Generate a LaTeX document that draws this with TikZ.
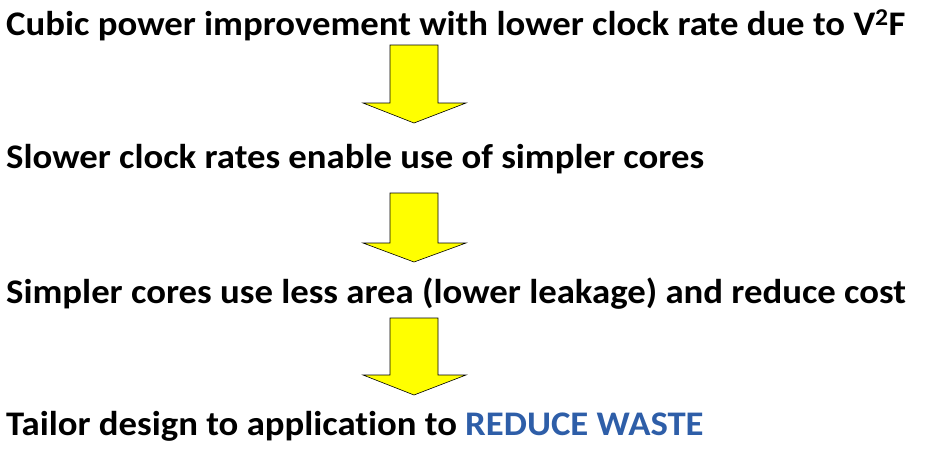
\documentclass[tikz,border=0pt]{standalone}
\usepackage{fontspec}
\setmainfont[Ligatures=NoCommon,FakeStretch=1.065]{Carlito}
\usepackage{tikz}
\definecolor{wasteblue}{RGB}{46,94,168}
\definecolor{arrowyellow}{RGB}{255,255,0}
\tikzset{
  line/.style={anchor=base west,inner sep=0pt,font=\fontsize{34.5}{38}\selectfont\bfseries},
  blockarrow/.style={fill=arrowyellow,draw=black,line width=0.6pt,line join=miter}
}
\begin{document}
\begin{tikzpicture}[x=1pt,y=-1pt]
  \useasboundingbox (0,0) rectangle (929,451);
  \node[line] (cubic) at (6,35) {Cubic power improvement with lower clock rate due to V\textsuperscript{2}F};
  \node[line] (slower) at (6,168) {Slower clock rates enable use of simpler cores};
  \node[line] (simpler) at (6,303) {Simpler cores use less area (lower leakage) and reduce cost};
  \node[line] (tailor) at (6,435) {Tailor design to application to \textcolor{wasteblue}{REDUCE WASTE}};
  % down arrows: top of shaft / start of head / tip
  \foreach \t/\h/\p in {45/103/123, 193/243/262, 318/375/395}
    \draw[blockarrow] (390,\t) -- (438,\t) -- (438,\h) -- (466,\h) -- (414,\p) -- (363,\h) -- (390,\h) -- cycle;
\end{tikzpicture}
\end{document}
